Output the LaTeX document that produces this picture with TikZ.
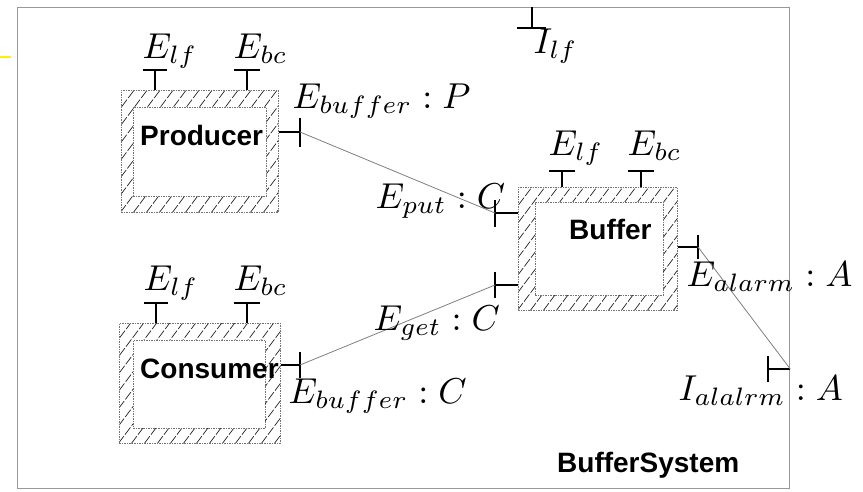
\documentclass[tikz,border=0pt]{standalone}
\usepackage{fontspec}
\setsansfont{Liberation Sans}
\begin{document}
\begin{tikzpicture}[x=1pt,y=-1pt,
  sysbox/.style={draw=black!40, line width=1.3pt, inner sep=0pt, anchor=north west},
  hatch/.style={black!85, line width=0.7pt, dash pattern=on 9pt off 2pt},
  outerbox/.style={draw=black!55, dash pattern=on 1.5pt off 1pt, line width=0.8pt, inner sep=0pt, anchor=north west,
     path picture={\foreach \k in {0,13,...,351}{\draw[hatch] ([xshift=\k pt-170pt]path picture bounding box.south west) -- ++(180pt,240pt);}}},
  innerbox/.style={draw=black!55, dash pattern=on 1.5pt off 1pt, line width=0.8pt, fill=white, inner sep=0pt, anchor=north west},
  port/.style={black, line width=1.1pt},
  conn/.style={black!50, line width=0.8pt},
  lbl/.style={inner sep=0pt, anchor=base west, scale=3.6},
  boxname/.style={inner sep=0pt, anchor=base west, font=\sffamily\bfseries\fontsize{28}{30}\selectfont},
]
\useasboundingbox (0,0) rectangle (863,491);
\fill[white] (0,0) rectangle (863,491);
\draw[yellow, line width=1.2pt] (0,57) -- (11,57);

% system
\node[sysbox, minimum width=772pt, minimum height=481pt] (sys) at (17,7) {};
\node[boxname] (sysN) at (557,472) {BufferSystem};

% Producer
\node[outerbox, minimum width=157pt, minimum height=122pt] (prodO) at (121,90) {};
\node[innerbox, minimum width=133pt, minimum height=89pt] (prodI) at (133,107) {};
\node[boxname] (prodN) at (140,145) {Producer};

% Buffer
\node[outerbox, minimum width=159pt, minimum height=123pt] (bufO) at (518,187) {};
\node[innerbox, minimum width=128pt, minimum height=93pt] (bufI) at (535,202) {};
\node[boxname] (bufN) at (569,239) {Buffer};

% Consumer
\node[outerbox, minimum width=161pt, minimum height=120pt] (conO) at (119,323) {};
\node[innerbox, minimum width=132pt, minimum height=88pt] (conI) at (133,340) {};
\node[boxname] (conN) at (140,378) {Consumer};

% top T ports
\coordinate (pLf) at (155,70);
\coordinate (pBc) at (247,70);
\coordinate (bLf) at (562,171);
\coordinate (bBc) at (641,171);
\coordinate (cLf) at (156,303);
\coordinate (cBc) at (247,303);
\draw[port] (pLf) -- (pLf |- prodO.north) (pLf) ++(-12,0) -- ++(24,0);
\draw[port] (pBc) -- (pBc |- prodO.north) (pBc) ++(-13,0) -- ++(26,0);
\draw[port] (bLf) -- (bLf |- bufO.north) (bLf) ++(-13,0) -- ++(26,0);
\draw[port] (bBc) -- (bBc |- bufO.north) (bBc) ++(-13,0) -- ++(26,0);
\draw[port] (cLf) -- (cLf |- conO.north) (cLf) ++(-12,0) -- ++(24,0);
\draw[port] (cBc) -- (cBc |- conO.north) (cBc) ++(-13,0) -- ++(26,0);

% side ports
\coordinate (pOut) at (300,132);
\coordinate (bPut) at (495,213);
\coordinate (bGet) at (495,285);
\coordinate (bAl) at (698,247);
\coordinate (cOut) at (300,365);
\coordinate (sAl) at (768,369);
\coordinate (sLf) at (532,28);
\draw[port] (pOut) -- (pOut -| prodO.east) (pOut) ++(0,-14) -- ++(0,29);
\draw[port] (cOut) -- (cOut -| conO.east) (cOut) ++(0,-13) -- ++(0,26);
\draw[port] (bPut) -- (bPut -| bufO.west) (bPut) ++(0,-13) -- ++(0,27);
\draw[port] (bGet) -- (bGet -| bufO.west) (bGet) ++(0,-13) -- ++(0,26);
\draw[port] (bAl) -- (bAl -| bufO.east) (bAl) ++(0,-12) -- ++(0,24);
\draw[port] (sAl) -- (sAl -| sys.east) (sAl) ++(0,-13) -- ++(0,26);
\draw[port] (sLf) -- (sLf |- sys.north) (sLf) ++(-15,0) -- ++(29,0);

% connectors
\draw[conn] (pOut) -- (bPut);
\draw[conn] (cOut) -- (bGet);
\draw[conn] (bAl) -- (sAl -| sys.east);

% labels
\node[lbl] (pLfL) at (142,58) {$E_{lf}$};
\node[lbl] (pBcL) at (233,58) {$E_{bc}$};
\node[lbl] (bLfL) at (548,155) {$E_{lf}$};
\node[lbl] (bBcL) at (627,155) {$E_{bc}$};
\node[lbl] (cLfL) at (143,290) {$E_{lf}$};
\node[lbl] (cBcL) at (233,290) {$E_{bc}$};
\node[lbl] (pOutL) at (292,108) {$E_{buffer}:P$};
\node[lbl] (bPutL) at (375,208) {$E_{put}:C$};
\node[lbl] (bGetL) at (373,330) {$E_{get}:C$};
\node[lbl] (cOutL) at (288,403) {$E_{buffer}:C$};
\node[lbl] (bAlL) at (686,286) {$E_{alarm}:A$};
\node[lbl] (sAlL) at (678,400) {$I_{alalrm}:A$};
\node[lbl] (sLfL) at (533,53) {$I_{lf}$};
\end{tikzpicture}
\end{document}
